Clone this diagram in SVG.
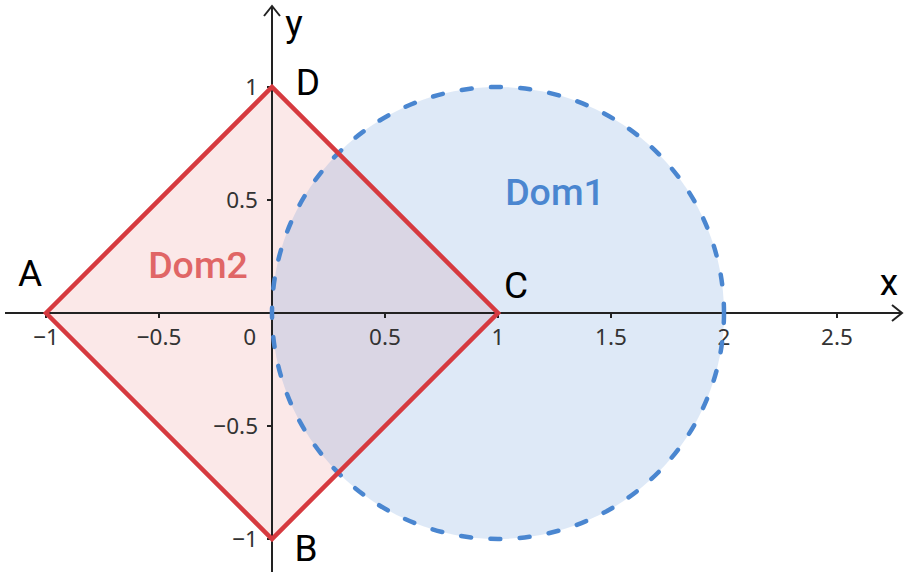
<svg xmlns="http://www.w3.org/2000/svg" width="905" height="576" viewBox="0 0 905 576">
<style>
.tick{font-family:"Noto Sans","Open Sans",sans-serif;font-size:22.5px;fill:#333}
.pt{font-family:Roboto,"Liberation Sans",sans-serif;font-size:37px;fill:#000}
.dom{font-family:Roboto,"Liberation Sans",sans-serif;font-size:37.5px;font-weight:500}
.ax{stroke:#222;stroke-width:2;fill:none}
</style>
<rect width="905" height="576" fill="#fff"/>
<g id="dom2-fill"><polygon points="46,313 272,87 498,313 272,539" fill="#fbe8e8"/></g>
<g id="dom1-fill"><circle cx="498" cy="313" r="226" fill="#4a86d0" fill-opacity="0.18"/></g>
<g id="axes">
<line class="ax" x1="5" y1="313" x2="902" y2="313"/>
<polyline class="ax" points="892,305 902,313 892,321"/>
<line class="ax" x1="272" y1="572" x2="272" y2="6"/>
<polyline class="ax" points="264,16 272,6 280,16"/>
<g class="ax">
<line x1="46" y1="313" x2="46" y2="318"/><line x1="159" y1="313" x2="159" y2="318"/>
<line x1="385" y1="313" x2="385" y2="318"/><line x1="498" y1="313" x2="498" y2="318"/>
<line x1="611" y1="313" x2="611" y2="318"/><line x1="724" y1="313" x2="724" y2="318"/>
<line x1="837" y1="313" x2="837" y2="318"/>
<line x1="267" y1="87" x2="272" y2="87"/><line x1="267" y1="200" x2="272" y2="200"/>
<line x1="267" y1="426" x2="272" y2="426"/><line x1="267" y1="539" x2="272" y2="539"/>
</g>
<g class="tick" text-anchor="middle">
<text x="46" y="345">−1</text><text x="159" y="345">−0.5</text>
<text x="385" y="345">0.5</text><text x="498" y="345">1</text><text x="611" y="345">1.5</text>
<text x="724" y="345">2</text><text x="837" y="345">2.5</text>
</g>
<g class="tick" text-anchor="end">
<text x="256" y="345">0</text>
<text x="258" y="95">1</text><text x="258" y="208">0.5</text>
<text x="258" y="434">−0.5</text><text x="258" y="547">−1</text>
</g>
</g>
<g id="dom1"><circle cx="498" cy="313" r="226" fill="none" stroke="#4a86d0" stroke-width="4.5" stroke-linecap="round" stroke-dasharray="10 19.375"/>
<text class="dom" x="555" y="205" text-anchor="middle" fill="#4a86d0">Dom1</text></g>
<g id="dom2"><polygon points="46,313 272,87 498,313 272,539" fill="none" stroke="#d63a3f" stroke-width="4.5" stroke-linejoin="miter"/>
<text class="dom" x="198" y="278" text-anchor="middle" fill="#e06666">Dom2</text></g>
<g id="labels">
<text class="pt" x="30" y="286" text-anchor="middle">A</text>
<text class="pt" x="306" y="561" text-anchor="middle">B</text>
<text class="pt" x="516" y="298" text-anchor="middle">C</text>
<text class="pt" x="308" y="95" text-anchor="middle">D</text>
<text class="pt" x="889" y="295" text-anchor="middle">x</text>
<text class="pt" x="294" y="36" text-anchor="middle">y</text>
</g>
</svg>
